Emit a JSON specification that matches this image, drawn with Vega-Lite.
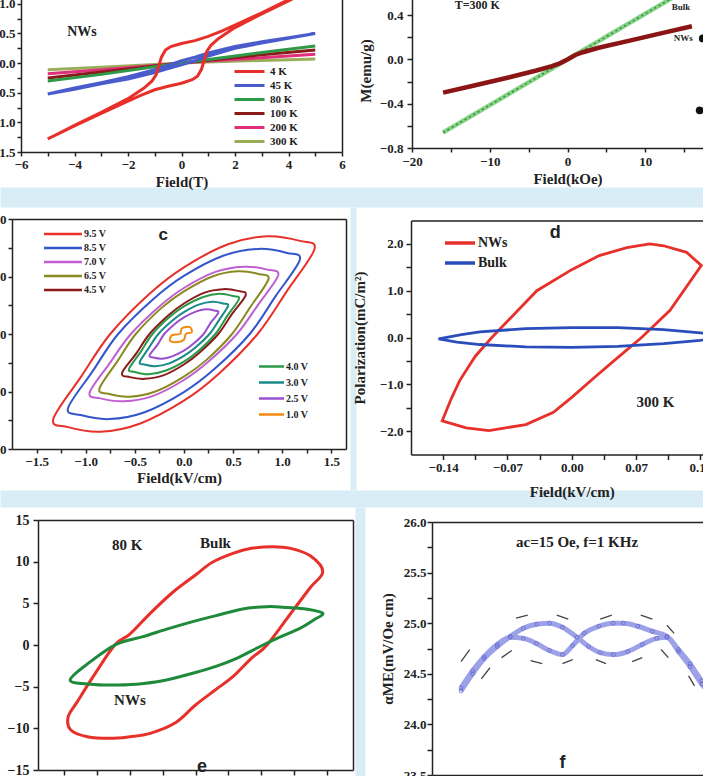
{
"$schema": "https://vega.github.io/schema/vega-lite/v6.json",
"width": 703, "height": 776, "autosize": {"type": "none"}, "padding": 0,
"background": "white",
"datasets": {
"a": [
{"s":"300 K","i":0,"x":-5,"y":-0.11},{"s":"300 K","i":1,"x":-3,"y":-0.07},{"s":"300 K","i":2,"x":-1,"y":-0.025},{"s":"300 K","i":3,"x":0,"y":0},{"s":"300 K","i":4,"x":1,"y":0.02},{"s":"300 K","i":5,"x":3,"y":0.045},{"s":"300 K","i":6,"x":5,"y":0.07},
{"s":"200 K","i":0,"x":-5,"y":-0.18},{"s":"200 K","i":1,"x":-3,"y":-0.11},{"s":"200 K","i":2,"x":-1,"y":-0.04},{"s":"200 K","i":3,"x":0,"y":0},{"s":"200 K","i":4,"x":1,"y":0.035},{"s":"200 K","i":5,"x":3,"y":0.09},{"s":"200 K","i":6,"x":5,"y":0.15},
{"s":"100 K","i":0,"x":-5,"y":-0.25},{"s":"100 K","i":1,"x":-3,"y":-0.15},{"s":"100 K","i":2,"x":-1,"y":-0.05},{"s":"100 K","i":3,"x":0,"y":0},{"s":"100 K","i":4,"x":1,"y":0.05},{"s":"100 K","i":5,"x":3,"y":0.14},{"s":"100 K","i":6,"x":5,"y":0.22},
{"s":"80 K","i":0,"x":-5,"y":-0.30},{"s":"80 K","i":1,"x":-3,"y":-0.19},{"s":"80 K","i":2,"x":-1,"y":-0.06},{"s":"80 K","i":3,"x":0,"y":0},{"s":"80 K","i":4,"x":1,"y":0.06},{"s":"80 K","i":5,"x":3,"y":0.18},{"s":"80 K","i":6,"x":5,"y":0.29},
{"s":"45 K","i":0,"x":5,"y":0.50},{"s":"45 K","i":1,"x":4,"y":0.43},{"s":"45 K","i":2,"x":3,"y":0.36},{"s":"45 K","i":3,"x":2,"y":0.28},{"s":"45 K","i":4,"x":1,"y":0.17},{"s":"45 K","i":5,"x":0.5,"y":0.10},{"s":"45 K","i":6,"x":0,"y":0.04},{"s":"45 K","i":7,"x":-0.5,"y":-0.04},{"s":"45 K","i":8,"x":-1,"y":-0.11},{"s":"45 K","i":9,"x":-2,"y":-0.23},{"s":"45 K","i":10,"x":-3,"y":-0.33},{"s":"45 K","i":11,"x":-4,"y":-0.42},{"s":"45 K","i":12,"x":-5,"y":-0.52},
{"s":"45 K","i":13,"x":-4,"y":-0.44},{"s":"45 K","i":14,"x":-3,"y":-0.35},{"s":"45 K","i":15,"x":-2,"y":-0.27},{"s":"45 K","i":16,"x":-1,"y":-0.16},{"s":"45 K","i":17,"x":-0.5,"y":-0.09},{"s":"45 K","i":18,"x":0,"y":-0.03},{"s":"45 K","i":19,"x":0.5,"y":0.04},{"s":"45 K","i":20,"x":1,"y":0.12},{"s":"45 K","i":21,"x":2,"y":0.25},{"s":"45 K","i":22,"x":3,"y":0.34},{"s":"45 K","i":23,"x":4,"y":0.42},{"s":"45 K","i":24,"x":5,"y":0.50},
{"s":"4 K","i":0,"x":5,"y":1.30},{"s":"4 K","i":1,"x":4,"y":1.07},{"s":"4 K","i":2,"x":3,"y":0.85},{"s":"4 K","i":3,"x":2,"y":0.64},{"s":"4 K","i":4,"x":1.5,"y":0.54},{"s":"4 K","i":5,"x":1,"y":0.45},{"s":"4 K","i":6,"x":0.5,"y":0.38},{"s":"4 K","i":7,"x":0,"y":0.33},{"s":"4 K","i":8,"x":-0.4,"y":0.28},{"s":"4 K","i":9,"x":-0.6,"y":0.22},{"s":"4 K","i":10,"x":-0.75,"y":0.10},{"s":"4 K","i":11,"x":-0.85,"y":-0.05},{"s":"4 K","i":12,"x":-0.95,"y":-0.20},{"s":"4 K","i":13,"x":-1.1,"y":-0.30},{"s":"4 K","i":14,"x":-1.4,"y":-0.42},{"s":"4 K","i":15,"x":-2,"y":-0.60},{"s":"4 K","i":16,"x":-3,"y":-0.83},{"s":"4 K","i":17,"x":-4,"y":-1.05},{"s":"4 K","i":18,"x":-5,"y":-1.28},
{"s":"4 K","i":19,"x":-4,"y":-1.06},{"s":"4 K","i":20,"x":-3,"y":-0.85},{"s":"4 K","i":21,"x":-2,"y":-0.64},{"s":"4 K","i":22,"x":-1.5,"y":-0.54},{"s":"4 K","i":23,"x":-1,"y":-0.45},{"s":"4 K","i":24,"x":-0.5,"y":-0.39},{"s":"4 K","i":25,"x":0,"y":-0.34},{"s":"4 K","i":26,"x":0.4,"y":-0.28},{"s":"4 K","i":27,"x":0.6,"y":-0.22},{"s":"4 K","i":28,"x":0.75,"y":-0.10},{"s":"4 K","i":29,"x":0.85,"y":0.05},{"s":"4 K","i":30,"x":0.95,"y":0.20},{"s":"4 K","i":31,"x":1.1,"y":0.30},{"s":"4 K","i":32,"x":1.4,"y":0.42},{"s":"4 K","i":33,"x":2,"y":0.60},{"s":"4 K","i":34,"x":3,"y":0.83},{"s":"4 K","i":35,"x":4,"y":1.05},{"s":"4 K","i":36,"x":5,"y":1.28}
],
"a_t": [{"x":-3.72,"y":0.52,"t":"NWs"}],
"b_bulk": [{"x":-16,"y":-0.66},{"x":-14,"y":-0.578},{"x":-12,"y":-0.495},{"x":-10,"y":-0.413},{"x":-8,"y":-0.33},{"x":-6,"y":-0.248},{"x":-4,"y":-0.165},{"x":-2,"y":-0.083},{"x":0,"y":0},{"x":2,"y":0.083},{"x":4,"y":0.165},{"x":6,"y":0.248},{"x":8,"y":0.33},{"x":10,"y":0.413},{"x":12,"y":0.495},{"x":14,"y":0.578},{"x":16,"y":0.66}],
"b_nws": [{"x":-16,"y":-0.30},{"x":-12,"y":-0.235},{"x":-8,"y":-0.17},{"x":-4,"y":-0.10},{"x":-2,"y":-0.06},{"x":-1,"y":-0.035},{"x":0,"y":0},{"x":1,"y":0.04},{"x":2,"y":0.065},{"x":4,"y":0.105},{"x":8,"y":0.17},{"x":12,"y":0.235},{"x":16,"y":0.30}],
"b_t": [{"x":-11.6,"y":0.49,"t":"T=300 K"}],
"b_t2": [{"x":14.6,"y":0.47,"t":"Bulk"},{"x":14.9,"y":0.19,"t":"NWs"}],
"b_dots": [{"x":17.4,"y":0.19},{"x":17.0,"y":-0.46}],
"c1": [
{"s":"9.5 V","i":0,"x":-1.33,"y":-14.8},{"s":"9.5 V","i":1,"x":-1.05,"y":-7.5},{"s":"9.5 V","i":2,"x":-0.75,"y":0},{"s":"9.5 V","i":3,"x":-0.35,"y":7.0},{"s":"9.5 V","i":4,"x":0,"y":11.6},{"s":"9.5 V","i":5,"x":0.45,"y":15.6},{"s":"9.5 V","i":6,"x":0.85,"y":17.0},{"s":"9.5 V","i":7,"x":1.18,"y":16.2},{"s":"9.5 V","i":8,"x":1.33,"y":14.8},{"s":"9.5 V","i":9,"x":1.05,"y":7.5},{"s":"9.5 V","i":10,"x":0.75,"y":0},{"s":"9.5 V","i":11,"x":0.35,"y":-7.0},{"s":"9.5 V","i":12,"x":0,"y":-11.6},{"s":"9.5 V","i":13,"x":-0.45,"y":-15.6},{"s":"9.5 V","i":14,"x":-0.85,"y":-17.0},{"s":"9.5 V","i":15,"x":-1.18,"y":-16.2},
{"s":"8.5 V","i":0,"x":-1.18,"y":-12.9},{"s":"8.5 V","i":1,"x":-0.93,"y":-6.5},{"s":"8.5 V","i":2,"x":-0.67,"y":0},{"s":"8.5 V","i":3,"x":-0.31,"y":6.1},{"s":"8.5 V","i":4,"x":0,"y":10.1},{"s":"8.5 V","i":5,"x":0.40,"y":13.6},{"s":"8.5 V","i":6,"x":0.76,"y":14.8},{"s":"8.5 V","i":7,"x":1.05,"y":14.1},{"s":"8.5 V","i":8,"x":1.18,"y":12.9},{"s":"8.5 V","i":9,"x":0.93,"y":6.5},{"s":"8.5 V","i":10,"x":0.67,"y":0},{"s":"8.5 V","i":11,"x":0.31,"y":-6.1},{"s":"8.5 V","i":12,"x":0,"y":-10.1},{"s":"8.5 V","i":13,"x":-0.40,"y":-13.6},{"s":"8.5 V","i":14,"x":-0.76,"y":-14.8},{"s":"8.5 V","i":15,"x":-1.05,"y":-14.1},
{"s":"7.0 V","i":0,"x":-0.96,"y":-10.2},{"s":"7.0 V","i":1,"x":-0.76,"y":-5.2},{"s":"7.0 V","i":2,"x":-0.54,"y":0},{"s":"7.0 V","i":3,"x":-0.25,"y":4.8},{"s":"7.0 V","i":4,"x":0,"y":8.0},{"s":"7.0 V","i":5,"x":0.32,"y":10.8},{"s":"7.0 V","i":6,"x":0.61,"y":11.7},{"s":"7.0 V","i":7,"x":0.85,"y":11.2},{"s":"7.0 V","i":8,"x":0.96,"y":10.2},{"s":"7.0 V","i":9,"x":0.76,"y":5.2},{"s":"7.0 V","i":10,"x":0.54,"y":0},{"s":"7.0 V","i":11,"x":0.25,"y":-4.8},{"s":"7.0 V","i":12,"x":0,"y":-8.0},{"s":"7.0 V","i":13,"x":-0.32,"y":-10.8},{"s":"7.0 V","i":14,"x":-0.61,"y":-11.7},{"s":"7.0 V","i":15,"x":-0.85,"y":-11.2},
{"s":"6.5 V","i":0,"x":-0.86,"y":-9.5},{"s":"6.5 V","i":1,"x":-0.68,"y":-4.8},{"s":"6.5 V","i":2,"x":-0.49,"y":0},{"s":"6.5 V","i":3,"x":-0.23,"y":4.5},{"s":"6.5 V","i":4,"x":0,"y":7.4},{"s":"6.5 V","i":5,"x":0.29,"y":10.0},{"s":"6.5 V","i":6,"x":0.55,"y":10.9},{"s":"6.5 V","i":7,"x":0.77,"y":10.4},{"s":"6.5 V","i":8,"x":0.86,"y":9.5},{"s":"6.5 V","i":9,"x":0.68,"y":4.8},{"s":"6.5 V","i":10,"x":0.49,"y":0},{"s":"6.5 V","i":11,"x":0.23,"y":-4.5},{"s":"6.5 V","i":12,"x":0,"y":-7.4},{"s":"6.5 V","i":13,"x":-0.29,"y":-10.0},{"s":"6.5 V","i":14,"x":-0.55,"y":-10.9},{"s":"6.5 V","i":15,"x":-0.77,"y":-10.4},
{"s":"4.5 V","i":0,"x":-0.63,"y":-6.8},{"s":"4.5 V","i":1,"x":-0.49,"y":-3.5},{"s":"4.5 V","i":2,"x":-0.35,"y":0},{"s":"4.5 V","i":3,"x":-0.16,"y":3.2},{"s":"4.5 V","i":4,"x":0,"y":5.3},{"s":"4.5 V","i":5,"x":0.21,"y":7.2},{"s":"4.5 V","i":6,"x":0.40,"y":7.8},{"s":"4.5 V","i":7,"x":0.55,"y":7.5},{"s":"4.5 V","i":8,"x":0.63,"y":6.8},{"s":"4.5 V","i":9,"x":0.49,"y":3.5},{"s":"4.5 V","i":10,"x":0.35,"y":0},{"s":"4.5 V","i":11,"x":0.16,"y":-3.2},{"s":"4.5 V","i":12,"x":0,"y":-5.3},{"s":"4.5 V","i":13,"x":-0.21,"y":-7.2},{"s":"4.5 V","i":14,"x":-0.40,"y":-7.8},{"s":"4.5 V","i":15,"x":-0.55,"y":-7.5}
],
"c2": [
{"s":"4.0 V","i":0,"x":-0.56,"y":-6.1},{"s":"4.0 V","i":1,"x":-0.44,"y":-3.1},{"s":"4.0 V","i":2,"x":-0.32,"y":0},{"s":"4.0 V","i":3,"x":-0.15,"y":2.9},{"s":"4.0 V","i":4,"x":0,"y":4.8},{"s":"4.0 V","i":5,"x":0.19,"y":6.4},{"s":"4.0 V","i":6,"x":0.36,"y":7.0},{"s":"4.0 V","i":7,"x":0.50,"y":6.6},{"s":"4.0 V","i":8,"x":0.56,"y":6.1},{"s":"4.0 V","i":9,"x":0.44,"y":3.1},{"s":"4.0 V","i":10,"x":0.32,"y":0},{"s":"4.0 V","i":11,"x":0.15,"y":-2.9},{"s":"4.0 V","i":12,"x":0,"y":-4.8},{"s":"4.0 V","i":13,"x":-0.19,"y":-6.4},{"s":"4.0 V","i":14,"x":-0.36,"y":-7.0},{"s":"4.0 V","i":15,"x":-0.50,"y":-6.6},
{"s":"3.0 V","i":0,"x":-0.45,"y":-4.9},{"s":"3.0 V","i":1,"x":-0.36,"y":-2.5},{"s":"3.0 V","i":2,"x":-0.26,"y":0},{"s":"3.0 V","i":3,"x":-0.12,"y":2.3},{"s":"3.0 V","i":4,"x":0,"y":3.8},{"s":"3.0 V","i":5,"x":0.15,"y":5.1},{"s":"3.0 V","i":6,"x":0.29,"y":5.6},{"s":"3.0 V","i":7,"x":0.40,"y":5.3},{"s":"3.0 V","i":8,"x":0.45,"y":4.9},{"s":"3.0 V","i":9,"x":0.36,"y":2.5},{"s":"3.0 V","i":10,"x":0.26,"y":0},{"s":"3.0 V","i":11,"x":0.12,"y":-2.3},{"s":"3.0 V","i":12,"x":0,"y":-3.8},{"s":"3.0 V","i":13,"x":-0.15,"y":-5.1},{"s":"3.0 V","i":14,"x":-0.29,"y":-5.6},{"s":"3.0 V","i":15,"x":-0.40,"y":-5.3},
{"s":"2.5 V","i":0,"x":-0.35,"y":-3.7},{"s":"2.5 V","i":1,"x":-0.27,"y":-1.9},{"s":"2.5 V","i":2,"x":-0.20,"y":0},{"s":"2.5 V","i":3,"x":-0.09,"y":1.8},{"s":"2.5 V","i":4,"x":0,"y":2.9},{"s":"2.5 V","i":5,"x":0.12,"y":3.9},{"s":"2.5 V","i":6,"x":0.22,"y":4.3},{"s":"2.5 V","i":7,"x":0.31,"y":4.1},{"s":"2.5 V","i":8,"x":0.35,"y":3.7},{"s":"2.5 V","i":9,"x":0.27,"y":1.9},{"s":"2.5 V","i":10,"x":0.20,"y":0},{"s":"2.5 V","i":11,"x":0.09,"y":-1.8},{"s":"2.5 V","i":12,"x":0,"y":-2.9},{"s":"2.5 V","i":13,"x":-0.12,"y":-3.9},{"s":"2.5 V","i":14,"x":-0.22,"y":-4.3},{"s":"2.5 V","i":15,"x":-0.31,"y":-4.1},
{"s":"1.0 V","i":0,"x":-0.14,"y":-1.2},{"s":"1.0 V","i":1,"x":-0.12,"y":-0.2},{"s":"1.0 V","i":2,"x":-0.04,"y":0.0},{"s":"1.0 V","i":3,"x":-0.02,"y":1.0},{"s":"1.0 V","i":4,"x":0.06,"y":1.2},{"s":"1.0 V","i":5,"x":0.08,"y":0.3},{"s":"1.0 V","i":6,"x":0.02,"y":0.0},{"s":"1.0 V","i":7,"x":0.0,"y":-1.0},{"s":"1.0 V","i":8,"x":-0.06,"y":-1.4}
],
"c_t": [{"x":-0.21,"y":17.2,"t":"c"}],
"d": [
{"s":"NWs","i":0,"x":-0.141,"y":-1.78},{"s":"NWs","i":1,"x":-0.115,"y":-1.93},{"s":"NWs","i":2,"x":-0.09,"y":-1.99},{"s":"NWs","i":3,"x":-0.05,"y":-1.86},{"s":"NWs","i":4,"x":-0.02,"y":-1.6},{"s":"NWs","i":5,"x":0,"y":-1.28},{"s":"NWs","i":6,"x":0.025,"y":-0.85},{"s":"NWs","i":7,"x":0.05,"y":-0.43},{"s":"NWs","i":8,"x":0.076,"y":0},{"s":"NWs","i":9,"x":0.107,"y":0.58},{"s":"NWs","i":10,"x":0.141,"y":1.54},{"s":"NWs","i":11,"x":0.125,"y":1.82},{"s":"NWs","i":12,"x":0.1,"y":1.96},{"s":"NWs","i":13,"x":0.085,"y":2.0},{"s":"NWs","i":14,"x":0.06,"y":1.92},{"s":"NWs","i":15,"x":0.03,"y":1.75},{"s":"NWs","i":16,"x":0,"y":1.45},{"s":"NWs","i":17,"x":-0.038,"y":1.0},{"s":"NWs","i":18,"x":-0.065,"y":0.45},{"s":"NWs","i":19,"x":-0.087,"y":0},{"s":"NWs","i":20,"x":-0.105,"y":-0.4},{"s":"NWs","i":21,"x":-0.122,"y":-0.92},{"s":"NWs","i":22,"x":-0.131,"y":-1.3},
{"s":"Bulk","i":0,"x":-0.145,"y":-0.03},{"s":"Bulk","i":1,"x":-0.12,"y":0.06},{"s":"Bulk","i":2,"x":-0.1,"y":0.12},{"s":"Bulk","i":3,"x":-0.05,"y":0.19},{"s":"Bulk","i":4,"x":0,"y":0.21},{"s":"Bulk","i":5,"x":0.05,"y":0.21},{"s":"Bulk","i":6,"x":0.1,"y":0.17},{"s":"Bulk","i":7,"x":0.14,"y":0.10},{"s":"Bulk","i":8,"x":0.17,"y":0.02},{"s":"Bulk","i":9,"x":0.14,"y":-0.06},{"s":"Bulk","i":10,"x":0.1,"y":-0.13},{"s":"Bulk","i":11,"x":0.05,"y":-0.19},{"s":"Bulk","i":12,"x":0,"y":-0.21},{"s":"Bulk","i":13,"x":-0.05,"y":-0.2},{"s":"Bulk","i":14,"x":-0.1,"y":-0.15},{"s":"Bulk","i":15,"x":-0.125,"y":-0.1}
],
"d_t": [{"x":-0.018,"y":2.23,"t":"d"}],
"d_t2": [{"x":0.091,"y":-1.38,"t":"300 K"}],
"e_bulk": [
{"i":0,"x":1.94,"y":8.8},{"i":1,"x":1.75,"y":10.7},{"i":2,"x":1.45,"y":11.6},{"i":3,"x":1.18,"y":11.8},{"i":4,"x":0.85,"y":11.6},{"i":5,"x":0.57,"y":11.0},{"i":6,"x":0.25,"y":9.9},{"i":7,"x":0,"y":8.4},{"i":8,"x":-0.35,"y":6.3},{"i":9,"x":-0.69,"y":3.8},{"i":10,"x":-1.0,"y":1.3},{"i":11,"x":-1.23,"y":0},{"i":12,"x":-1.56,"y":-3.8},{"i":13,"x":-1.8,"y":-6.8},{"i":14,"x":-1.94,"y":-8.6},{"i":15,"x":-1.9,"y":-10.2},{"i":16,"x":-1.65,"y":-11.0},{"i":17,"x":-1.30,"y":-11.2},{"i":18,"x":-1.0,"y":-11.0},{"i":19,"x":-0.69,"y":-10.6},{"i":20,"x":-0.3,"y":-9.3},{"i":21,"x":0,"y":-7.2},{"i":22,"x":0.3,"y":-5.4},{"i":23,"x":0.57,"y":-3.8},{"i":24,"x":0.85,"y":-1.6},{"i":25,"x":1.09,"y":0},{"i":26,"x":1.49,"y":4.2},{"i":27,"x":1.75,"y":6.9}
],
"e_nws": [
{"i":0,"x":1.94,"y":3.8},{"i":1,"x":1.7,"y":4.3},{"i":2,"x":1.4,"y":4.5},{"i":3,"x":1.09,"y":4.6},{"i":4,"x":0.7,"y":4.3},{"i":5,"x":0.3,"y":3.5},{"i":6,"x":0,"y":2.9},{"i":7,"x":-0.4,"y":2.0},{"i":8,"x":-0.8,"y":1.0},{"i":9,"x":-1.2,"y":0.1},{"i":10,"x":-1.6,"y":-2.0},{"i":11,"x":-1.91,"y":-4.2},{"i":12,"x":-1.6,"y":-4.7},{"i":13,"x":-1.3,"y":-4.8},{"i":14,"x":-0.9,"y":-4.7},{"i":15,"x":-0.5,"y":-4.3},{"i":16,"x":0,"y":-3.3},{"i":17,"x":0.3,"y":-2.6},{"i":18,"x":0.6,"y":-1.7},{"i":19,"x":1.03,"y":0},{"i":20,"x":1.3,"y":1.0},{"i":21,"x":1.59,"y":2.0},{"i":22,"x":1.8,"y":3.0}
],
"e_t": [{"x":-1.04,"y":12.0,"t":"80 K"},{"x":-1.0,"y":-6.6,"t":"NWs"}],
"e_t2": [{"x":0.07,"y":12.2,"t":"Bulk"}],
"e_t3": [{"x":0.1,"y":-14.6,"t":"e"}],
"f": [
{"s":"A","x":-0.8,"y":24.33},{"s":"A","x":-0.72,"y":24.5},{"s":"A","x":-0.64,"y":24.65},{"s":"A","x":-0.55,"y":24.77},{"s":"A","x":-0.46,"y":24.87},{"s":"A","x":-0.37,"y":24.95},{"s":"A","x":-0.28,"y":24.99},{"s":"A","x":-0.19,"y":25.0},{"s":"A","x":-0.1,"y":24.96},{"s":"A","x":0,"y":24.86},{"s":"A","x":0.08,"y":24.77},{"s":"A","x":0.16,"y":24.71},{"s":"A","x":0.25,"y":24.69},{"s":"A","x":0.35,"y":24.72},{"s":"A","x":0.45,"y":24.79},{"s":"A","x":0.55,"y":24.85},{"s":"A","x":0.62,"y":24.86},{"s":"A","x":0.7,"y":24.72},{"s":"A","x":0.78,"y":24.57},{"s":"A","x":0.86,"y":24.40},{"s":"A","x":0.92,"y":24.3},
{"s":"B","x":-0.8,"y":24.36},{"s":"B","x":-0.72,"y":24.53},{"s":"B","x":-0.64,"y":24.67},{"s":"B","x":-0.55,"y":24.79},{"s":"B","x":-0.46,"y":24.86},{"s":"B","x":-0.37,"y":24.85},{"s":"B","x":-0.28,"y":24.80},{"s":"B","x":-0.19,"y":24.73},{"s":"B","x":-0.1,"y":24.69},{"s":"B","x":-0.03,"y":24.78},{"s":"B","x":0.05,"y":24.9},{"s":"B","x":0.15,"y":24.97},{"s":"B","x":0.25,"y":25.0},{"s":"B","x":0.32,"y":25.0},{"s":"B","x":0.42,"y":24.97},{"s":"B","x":0.52,"y":24.92},{"s":"B","x":0.62,"y":24.87},{"s":"B","x":0.7,"y":24.74},{"s":"B","x":0.78,"y":24.6},{"s":"B","x":0.86,"y":24.43},{"s":"B","x":0.92,"y":24.33}
],
"f_arr": [
{"x":-0.74,"y":24.74,"x2":-0.80,"y2":24.62},{"x":-0.66,"y":24.45,"x2":-0.60,"y2":24.56},{"x":-0.52,"y":24.66,"x2":-0.45,"y2":24.73},{"x":-0.34,"y":25.08,"x2":-0.42,"y2":25.05},{"x":-0.06,"y":25.04,"x2":-0.14,"y2":25.08},{"x":-0.32,"y":24.63,"x2":-0.24,"y2":24.60},{"x":-0.1,"y":24.60,"x2":-0.03,"y2":24.64},{"x":0.13,"y":24.64,"x2":0.20,"y2":24.60},{"x":0.16,"y":25.04,"x2":0.24,"y2":25.08},{"x":0.44,"y":25.08,"x2":0.52,"y2":25.04},{"x":0.38,"y":24.62,"x2":0.45,"y2":24.66},{"x":0.62,"y":24.98,"x2":0.67,"y2":24.90},{"x":0.58,"y":24.74,"x2":0.63,"y2":24.66},{"x":0.77,"y":24.48,"x2":0.81,"y2":24.38}
],
"f_t": [{"x":0,"y":25.80,"t":"ac=15 Oe, f=1 KHz"}],
"f_t2": [{"x":-0.1,"y":23.62,"t":"f"}]
},
"layer": [
{
"data": {"name": "a"},
"mark": {"type":"line","opacity":0},
"encoding": {
"x": {"field":"x","type":"quantitative","scale":{"domain":[0,1],"range":[0,703],"nice":false,"zero":false},"axis":{"orient":"bottom","offset":-579,"domainColor":"#d8edf6","domainWidth":20,"ticks":false,"labels":false,"title":null,"zindex":0}},
"y": {"field":"y","type":"quantitative","scale":{"domain":[0,1],"range":[490,207],"nice":false,"zero":false},"axis":{"orient":"left","offset":-353,"domainColor":"#d8edf6","domainWidth":6,"ticks":false,"labels":false,"title":null,"zindex":0}}
}
},
{
"data": {"name": "a"},
"mark": {"type":"line","opacity":0},
"encoding": {
"x": {"field":"x","type":"quantitative","scale":{"domain":[0,1],"range":[0,703],"nice":false,"zero":false},"axis":{"orient":"bottom","offset":-277.5,"domainColor":"#d8edf6","domainWidth":17,"ticks":false,"labels":false,"title":null,"zindex":0}},
"y": {"field":"y","type":"quantitative","scale":{"domain":[0,1],"range":[776,507],"nice":false,"zero":false},"axis":{"orient":"left","offset":-360,"domainColor":"#d8edf6","domainWidth":10,"ticks":false,"labels":false,"title":null,"zindex":0}}
}
},
{
"data": {"name": "a"},
"layer": [
{
"encoding": {
"x": {"field":"x","type":"quantitative","scale":{"domain":[-6,6],"range":[21,342],"nice":false,"zero":false},
 "axis":{"orient":"bottom","offset":-624,"values":[-6,-5,-4,-3,-2,-1,0,1,2,3,4,5,6],"labelExpr":"datum.value % 2 === 0 ? datum.label : ''","title":"Field(T)","tickSize":4,"labelPadding":2,"titlePadding":3}},
"y": {"field":"y","type":"quantitative","scale":{"domain":[-1.5,1.2],"range":[152,-8],"nice":false,"zero":false},
 "axis":{"orient":"left","offset":-21,"values":[-1.5,-1.25,-1,-0.75,-0.5,-0.25,0,0.25,0.5,0.75,1],"labelExpr":"abs(datum.value*2-round(datum.value*2))<0.01 ? format(datum.value,'.1f') : ''","title":null,"tickSize":4,"labelPadding":2}}
},
"layer": [
{"mark":{"type":"line","strokeWidth":3},"encoding":{"color":{"field":"s","type":"nominal","scale":{"domain":["4 K","45 K","80 K","100 K","200 K","300 K"],"range":["#e8302a","#4a5ccc","#2e9a48","#8b1a1a","#e0307a","#9aae5a"]},"legend":{"orient":"none","legendX":243,"legendY":65,"title":null,"symbolType":"M-3,0H3","symbolSize":100,"symbolStrokeWidth":3,"symbolFillColor":"transparent","labelOffset":14,"labelFontSize":11,"rowPadding":1}},"order":{"field":"i","type":"quantitative"}}},
{"data":{"values":[{}]},"mark":{"type":"rule","color":"#222","strokeWidth":1.5},"encoding":{"x":{"datum":-6,"type":"quantitative"},"x2":{"datum":6},"y":{"datum":0,"type":"quantitative"}}},
{"data":{"values":[{}]},"mark":{"type":"rule","color":"#222","strokeWidth":1.5},"encoding":{"x":{"datum":0,"type":"quantitative"},"y":{"datum":-1.5,"type":"quantitative"},"y2":{"datum":1.2}}},
{"data":{"name":"a_t"},"mark":{"type":"text","font":"Liberation Serif","fontWeight":"bold","fontSize":14,"color":"#222"},"encoding":{"text":{"field":"t"}}}
]
},
{
"encoding": {
"x": {"field":"x","type":"quantitative","scale":{"domain":[-6,6],"range":[21,342],"nice":false,"zero":false},"axis":{"orient":"top","offset":8,"labels":false,"ticks":false,"title":null}},
"y": {"field":"y","type":"quantitative","scale":{"domain":[-1.5,1.2],"range":[152,-8],"nice":false,"zero":false},"axis":{"orient":"right","offset":-361,"labels":false,"ticks":false,"title":null}}
},
"mark": {"type":"line","opacity":0}
}
],
"resolve": {"axis": {"x": "independent", "y": "independent"}}
},
{
"data": {"name": "b_nws"},
"layer": [
{
"encoding": {
"x": {"field":"x","type":"quantitative","scale":{"domain":[-20,20],"range":[412,723],"nice":false,"zero":false},
 "axis":{"orient":"bottom","offset":-628,"values":[-20,-15,-10,-5,0,5,10,15,20],"labelExpr":"datum.value % 10 === 0 ? datum.label : ''","title":"Field(kOe)","tickSize":4,"labelPadding":3,"titlePadding":3}},
"y": {"field":"y","type":"quantitative","scale":{"domain":[-0.8,0.6],"range":[148,-7],"nice":false,"zero":false},
 "axis":{"orient":"left","offset":-412,"values":[-0.8,-0.6,-0.4,-0.2,0,0.2,0.4],"labelExpr":"abs(datum.value/0.4-round(datum.value/0.4))<0.01 ? format(datum.value,'.1f') : ''","title":"M(emu/g)","tickSize":5,"labelPadding":4,"titlePadding":6}}
},
"layer": [
{"data":{"name":"b_bulk"},"mark":{"type":"line","color":"#86d286","strokeWidth":4.5}},
{"data":{"name":"b_bulk"},"mark":{"type":"line","color":"#2f8f3a","strokeWidth":1.5,"strokeDash":[2,3]}},
{"mark":{"type":"line","color":"#8b1515","strokeWidth":4.5}},
{"data":{"values":[{}]},"mark":{"type":"rule","color":"#222","strokeWidth":1.5},"encoding":{"x":{"datum":-20,"type":"quantitative"},"x2":{"datum":20},"y":{"datum":0,"type":"quantitative"}}},
{"data":{"values":[{}]},"mark":{"type":"rule","color":"#222","strokeWidth":1.5},"encoding":{"x":{"datum":0,"type":"quantitative"},"y":{"datum":-0.8,"type":"quantitative"},"y2":{"datum":0.6}}},
{"data":{"name":"b_t"},"mark":{"type":"text","font":"Liberation Serif","fontWeight":"bold","fontSize":12,"color":"#222"},"encoding":{"text":{"field":"t"}}},
{"data":{"name":"b_t2"},"mark":{"type":"text","font":"Liberation Serif","fontWeight":"bold","fontSize":9,"color":"#222"},"encoding":{"text":{"field":"t"}}},
{"data":{"name":"b_dots"},"mark":{"type":"point","filled":true,"color":"#111","size":60,"opacity":1}}
]
},
{
"encoding": {
"x": {"field":"x","type":"quantitative","scale":{"domain":[-20,20],"range":[412,723],"nice":false,"zero":false},"axis":{"orient":"top","offset":7,"labels":false,"ticks":false,"title":null}},
"y": {"field":"y","type":"quantitative","scale":{"domain":[-0.8,0.6],"range":[148,-7],"nice":false,"zero":false},"axis":{"orient":"right","offset":20,"labels":false,"ticks":false,"title":null}}
},
"mark": {"type":"line","opacity":0}
}
],
"resolve": {"axis": {"x": "independent", "y": "independent"}}
},
{
"data": {"name": "c1"},
"layer": [
{
"encoding": {
"x": {"field":"x","type":"quantitative","scale":{"domain":[-1.75,1.65],"range":[12,346],"nice":false,"zero":false},
 "axis":{"orient":"bottom","offset":-327,"values":[-1.5,-1.25,-1,-0.75,-0.5,-0.25,0,0.25,0.5,0.75,1,1.25,1.5],"labelExpr":"abs(datum.value*2-round(datum.value*2))<0.01 ? format(datum.value,'.1f') : ''","title":"Field(kV/cm)","tickSize":4,"labelPadding":2,"titlePadding":2}},
"y": {"field":"y","type":"quantitative","scale":{"domain":[-20,20],"range":[449,219],"nice":false,"zero":false},
 "axis":{"orient":"left","offset":-12,"values":[-20,-15,-10,-5,0,5,10,15,20],"labelExpr":"datum.value % 10 === 0 ? datum.label : ''","title":null,"tickSize":4,"labelPadding":2}}
},
"layer": [
{"mark":{"type":"line","strokeWidth":2,"interpolate":"cardinal-closed"},"encoding":{"color":{"field":"s","type":"nominal","scale":{"domain":["9.5 V","8.5 V","7.0 V","6.5 V","4.5 V"],"range":["#e8302a","#3355cc","#c060d0","#8a8a20","#8b1a1a"]},"legend":{"orient":"none","legendX":55,"legendY":226,"title":null,"symbolType":"M-3,0H3","symbolSize":160,"symbolStrokeWidth":2.5,"symbolFillColor":"transparent","labelOffset":13,"labelFontSize":10,"rowPadding":1}},"order":{"field":"i","type":"quantitative"}}},
{"data":{"name":"c2"},"mark":{"type":"line","strokeWidth":2,"interpolate":"cardinal-closed"},"encoding":{"stroke":{"field":"s","type":"nominal","scale":{"domain":["4.0 V","3.0 V","2.5 V","1.0 V"],"range":["#2a9a4a","#1a8a8a","#9a50d0","#f08a10"]},"legend":{"orient":"none","legendX":266,"legendY":361,"title":null,"symbolType":"M-3,0H3","symbolSize":70,"symbolStrokeWidth":2.5,"symbolFillColor":"transparent","labelOffset":9,"labelFontSize":10,"rowPadding":5}},"order":{"field":"i","type":"quantitative"}}},
{"data":{"values":[{}]},"mark":{"type":"rule","color":"#222","strokeWidth":1.5},"encoding":{"x":{"datum":-1.75,"type":"quantitative"},"x2":{"datum":1.65},"y":{"datum":0,"type":"quantitative"}}},
{"data":{"values":[{}]},"mark":{"type":"rule","color":"#222","strokeWidth":1.5},"encoding":{"x":{"datum":0,"type":"quantitative"},"y":{"datum":-20,"type":"quantitative"},"y2":{"datum":20}}},
{"data":{"name":"c_t"},"mark":{"type":"text","font":"Liberation Sans","fontWeight":"bold","fontSize":17,"color":"#222"},"encoding":{"text":{"field":"t"}}}
]
},
{
"encoding": {
"x": {"field":"x","type":"quantitative","scale":{"domain":[-1.75,1.65],"range":[12,346],"nice":false,"zero":false},"axis":{"orient":"top","offset":-219,"labels":false,"ticks":false,"title":null}},
"y": {"field":"y","type":"quantitative","scale":{"domain":[-20,20],"range":[449,219],"nice":false,"zero":false},"axis":{"orient":"right","offset":-357,"labels":false,"ticks":false,"title":null}}
},
"mark": {"type":"line","opacity":0}
}
],
"resolve": {"axis": {"x": "independent", "y": "independent"}}
},
{
"data": {"name": "d"},
"layer": [
{
"encoding": {
"x": {"field":"x","type":"quantitative","scale":{"domain":[-0.175,0.175],"range":[411,732.5],"nice":false,"zero":false},
 "axis":{"orient":"bottom","offset":-321.5,"values":[-0.14,-0.105,-0.07,-0.035,0,0.035,0.07,0.105,0.14],"labelExpr":"abs(datum.value/0.07-round(datum.value/0.07))<0.01 ? format(datum.value,'.2f') : ''","title":"Field(kV/cm)","tickSize":5,"labelPadding":2,"titlePadding":10}},
"y": {"field":"y","type":"quantitative","scale":{"domain":[-2.5,2.5],"range":[454.5,220.5],"nice":false,"zero":false},
 "axis":{"orient":"left","offset":-411,"values":[-2,-1.5,-1,-0.5,0,0.5,1,1.5,2],"labelExpr":"datum.value % 1 === 0 ? datum.label : ''","title":"Polarization(mC/m²)","tickSize":5,"labelPadding":3,"titlePadding":12}}
},
"layer": [
{"mark":{"type":"line","strokeWidth":2.8,"interpolate":"linear-closed"},"encoding":{"color":{"field":"s","type":"nominal","scale":{"domain":["NWs","Bulk"],"range":["#e8302a","#2a4dbb"]},"legend":{"orient":"none","legendX":453,"legendY":236,"title":null,"symbolType":"M-3,0H3","symbolSize":100,"symbolStrokeWidth":3.5,"symbolFillColor":"transparent","labelOffset":11,"labelFontSize":14,"rowPadding":6}},"order":{"field":"i","type":"quantitative"}}},
{"data":{"values":[{}]},"mark":{"type":"rule","color":"#222","strokeWidth":1.5},"encoding":{"x":{"datum":-0.175,"type":"quantitative"},"x2":{"datum":0.175},"y":{"datum":0,"type":"quantitative"}}},
{"data":{"values":[{}]},"mark":{"type":"rule","color":"#222","strokeWidth":1.5},"encoding":{"x":{"datum":0,"type":"quantitative"},"y":{"datum":-2.5,"type":"quantitative"},"y2":{"datum":2.5}}},
{"data":{"name":"d_t"},"mark":{"type":"text","font":"Liberation Sans","fontWeight":"bold","fontSize":18,"color":"#222"},"encoding":{"text":{"field":"t"}}},
{"data":{"name":"d_t2"},"mark":{"type":"text","font":"Liberation Serif","fontWeight":"bold","fontSize":15,"color":"#222"},"encoding":{"text":{"field":"t"}}}
]
},
{
"encoding": {
"x": {"field":"x","type":"quantitative","scale":{"domain":[-0.175,0.175],"range":[411,732.5],"nice":false,"zero":false},"axis":{"orient":"top","offset":-220.5,"labels":false,"ticks":false,"title":null}},
"y": {"field":"y","type":"quantitative","scale":{"domain":[-2.5,2.5],"range":[454.5,220.5],"nice":false,"zero":false},"axis":{"orient":"right","offset":29.5,"labels":false,"ticks":false,"title":null}}
},
"mark": {"type":"line","opacity":0}
}
],
"resolve": {"axis": {"x": "independent", "y": "independent"}}
},
{
"data": {"name": "e_bulk"},
"layer": [
{
"encoding": {
"x": {"field":"x","type":"quantitative","scale":{"domain":[-2.4,2.4],"range":[38,353],"nice":false,"zero":false},
 "axis":{"orient":"bottom","offset":-6,"values":[-2,-1.5,-1,-0.5,0,0.5,1,1.5,2],"labels":false,"title":null,"tickSize":5}},
"y": {"field":"y","type":"quantitative","scale":{"domain":[-15,15],"range":[770,520],"nice":false,"zero":false},
 "axis":{"orient":"left","offset":-38,"values":[-15,-10,-5,0,5,10,15],"title":null,"tickSize":5,"labelPadding":4,"labelFontSize":14}}
},
"layer": [
{"mark":{"type":"line","color":"#e8302a","strokeWidth":3,"interpolate":"cardinal-closed"},"encoding":{"order":{"field":"i","type":"quantitative"}}},
{"data":{"name":"e_nws"},"mark":{"type":"line","color":"#1e8a3a","strokeWidth":3,"interpolate":"cardinal-closed"},"encoding":{"order":{"field":"i","type":"quantitative"}}},
{"data":{"values":[{}]},"mark":{"type":"rule","color":"#222","strokeWidth":1.5},"encoding":{"x":{"datum":-2.4,"type":"quantitative"},"x2":{"datum":2.4},"y":{"datum":0,"type":"quantitative"}}},
{"data":{"values":[{}]},"mark":{"type":"rule","color":"#222","strokeWidth":1.5},"encoding":{"x":{"datum":0,"type":"quantitative"},"y":{"datum":-15,"type":"quantitative"},"y2":{"datum":15}}},
{"data":{"name":"e_t"},"mark":{"type":"text","font":"Liberation Serif","fontWeight":"bold","fontSize":15,"color":"#222"},"encoding":{"text":{"field":"t"}}},
{"data":{"name":"e_t2"},"mark":{"type":"text","font":"Liberation Serif","fontWeight":"bold","fontSize":15,"color":"#222","align":"left"},"encoding":{"text":{"field":"t"}}},
{"data":{"name":"e_t3"},"mark":{"type":"text","font":"Liberation Sans","fontWeight":"bold","fontSize":18,"color":"#222"},"encoding":{"text":{"field":"t"}}}
]
},
{
"encoding": {
"x": {"field":"x","type":"quantitative","scale":{"domain":[-2.4,2.4],"range":[38,353],"nice":false,"zero":false},"axis":{"orient":"top","offset":-520,"labels":false,"ticks":false,"title":null}},
"y": {"field":"y","type":"quantitative","scale":{"domain":[-15,15],"range":[770,520],"nice":false,"zero":false},"axis":{"orient":"right","offset":-350,"labels":false,"ticks":false,"title":null}}
},
"mark": {"type":"line","opacity":0}
}
],
"resolve": {"axis": {"x": "independent", "y": "independent"}}
},
{
"data": {"name": "f"},
"layer": [
{
"encoding": {
"x": {"field":"x","type":"quantitative","scale":{"domain":[-1,1],"range":[432,722],"nice":false,"zero":false},
 "axis":{"orient":"bottom","offset":-1,"labels":false,"ticks":false,"title":null}},
"y": {"field":"y","type":"quantitative","scale":{"domain":[23.5,26],"range":[775,522],"nice":false,"zero":false},
 "axis":{"orient":"left","offset":-432,"values":[23.5,23.75,24,24.25,24.5,24.75,25,25.25,25.5,25.75,26],"labelExpr":"abs(datum.value*2-round(datum.value*2))<0.01 ? format(datum.value,'.1f') : ''","title":"αME(mV/Oe cm)","tickSize":5,"labelPadding":1,"titlePadding":8}}
},
"layer": [
{"mark":{"type":"line","color":"#9da1e8","strokeWidth":5,"interpolate":"monotone"},"encoding":{"detail":{"field":"s"}}},
{"mark":{"type":"point","filled":false,"color":"#5a5fc8","size":14,"strokeWidth":1}},
{"data":{"name":"f_arr"},"mark":{"type":"rule","color":"#444","strokeWidth":1.3},"encoding":{"x2":{"field":"x2"},"y2":{"field":"y2"}}},
{"data":{"name":"f_t"},"mark":{"type":"text","font":"Liberation Serif","fontWeight":"bold","fontSize":15,"color":"#222"},"encoding":{"text":{"field":"t"}}},
{"data":{"name":"f_t2"},"mark":{"type":"text","font":"Liberation Sans","fontWeight":"bold","fontSize":18,"color":"#222"},"encoding":{"text":{"field":"t"}}}
]
},
{
"encoding": {
"x": {"field":"x","type":"quantitative","scale":{"domain":[-1,1],"range":[432,722],"nice":false,"zero":false},"axis":{"orient":"top","offset":-522,"labels":false,"ticks":false,"title":null}},
"y": {"field":"y","type":"quantitative","scale":{"domain":[23.5,26],"range":[775,522],"nice":false,"zero":false},"axis":{"orient":"right","offset":19,"labels":false,"ticks":false,"title":null}}
},
"mark": {"type":"line","opacity":0}
}
],
"resolve": {"axis": {"x": "independent", "y": "independent"}}
}
],
"resolve": {"scale": {"x": "independent", "y": "independent", "color": "independent", "stroke": "independent"}, "axis": {"x": "independent", "y": "independent"}, "legend": {"color": "independent", "stroke": "independent"}},
"config": {
"view": {"stroke": null},
"axis": {"domainColor": "#222", "domainWidth": 1.5, "tickColor": "#222", "tickWidth": 1.5, "labelFont": "Liberation Serif", "labelFontWeight": "bold", "labelFontSize": 13, "labelColor": "#222", "titleFont": "Liberation Serif", "titleFontWeight": "bold", "titleFontSize": 15, "titleColor": "#222", "grid": false, "labelFlush": false, "labelOverlap": false, "labelBound": false, "zindex": 1},
"legend": {"labelFont": "Liberation Serif", "labelFontWeight": "bold", "labelColor": "#222", "zindex": 1}
}
}
